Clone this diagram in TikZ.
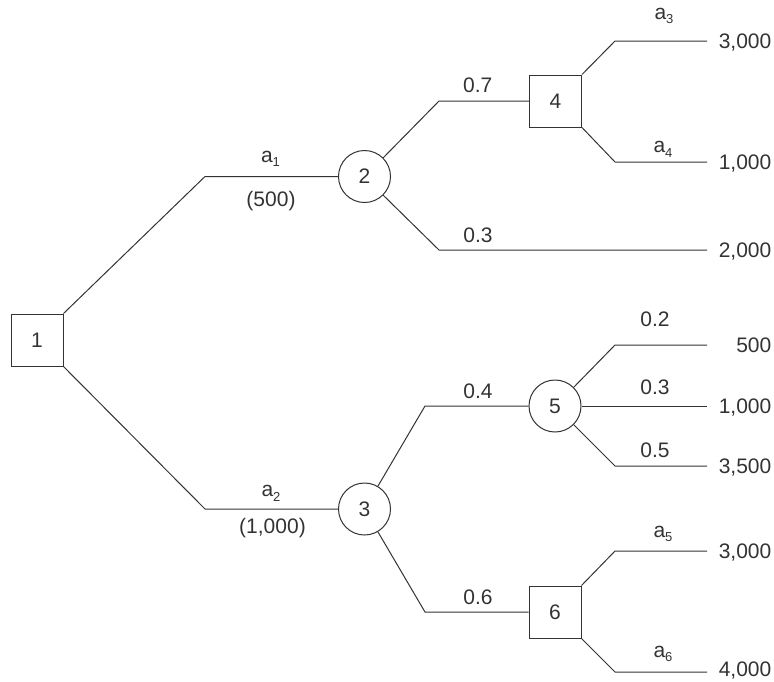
\documentclass[tikz,border=0pt]{standalone}
\usepackage{fontspec}
\setmainfont{Liberation Sans}
\newcommand\sbs[1]{\raisebox{-4.5pt}{\fontsize{13}{15}\selectfont #1}}
\definecolor{ink}{HTML}{333333}
\begin{document}
\begin{tikzpicture}[x=1pt,y=-1pt,
  every node/.style={font=\fontsize{21}{25}\selectfont, text=ink},
  line/.style={draw=ink, line width=1pt},
  decbox/.style={line, rectangle, minimum size=52pt, inner sep=0pt},
  chance/.style={line, circle, minimum size=52pt, inner sep=0pt},
  lab/.style={anchor=base, inner sep=0pt},
  val/.style={anchor=base east, inner sep=0pt}]
\useasboundingbox (0,0) rectangle (774,681);
% nodes
\node[decbox] (n1) at (37,340) {1};
\node[chance] (n2) at (364.5,176.5) {2};
\node[chance] (n3) at (364.5,509) {3};
\node[decbox] (n4) at (555.5,101) {4};
\node[chance] (n5) at (555,406) {5};
\node[decbox] (n6) at (555,612) {6};
% bend points and end points
\coordinate (c12) at (205,176.5);
\coordinate (c13) at (205,509);
\coordinate (c24) at (439,101);
\coordinate (c2e) at (439,250);
\coordinate (e2) at (707,250);
\coordinate (c4a) at (615,41);
\coordinate (e4a) at (707,41);
\coordinate (c4b) at (615,162);
\coordinate (e4b) at (707,162);
\coordinate (c35) at (425,406);
\coordinate (c36) at (425,612);
\coordinate (c5a) at (615,345);
\coordinate (e5a) at (707,345);
\coordinate (e5b) at (707,406);
\coordinate (c5c) at (615,466);
\coordinate (e5c) at (707,466);
\coordinate (c6a) at (615,551);
\coordinate (e6a) at (707,551);
\coordinate (c6b) at (615,672);
\coordinate (e6b) at (707,672);
% connectors
\draw[line] (n1.north east) -- (c12) -- (n2.west);
\draw[line] (n1.south east) -- (c13) -- (n3.west);
\draw[line] (n2.north east) -- (c24) -- (n4.west);
\draw[line] (n2.south east) -- (c2e) -- (e2);
\draw[line] (n4.north east) -- (c4a) -- (e4a);
\draw[line] (n4.south east) -- (c4b) -- (e4b);
\draw[line] (n3) -- (c35) -- (n5.west);
\draw[line] (n3) -- (c36) -- (n6.west);
\draw[line] (n5.north east) -- (c5a) -- (e5a);
\draw[line] (n5.east) -- (e5b);
\draw[line] (n5.south east) -- (c5c) -- (e5c);
\draw[line] (n6.north east) -- (c6a) -- (e6a);
\draw[line] (n6.south east) -- (c6b) -- (e6b);
% branch labels
\node[lab] (la1) at (270.5,162.3) {a\sbs{1}};
\node[lab] (lc1) at (271,206.7) {(500)};
\node[lab] (la2) at (271,496.7) {a\sbs{2}};
\node[lab] (lc2) at (272.5,533) {(1,000)};
\node[lab] (p07) at (477.7,92.7) {0.7};
\node[lab] (p03a) at (478,242) {0.3};
\node[lab] (p04) at (478,398) {0.4};
\node[lab] (p06) at (478,604) {0.6};
\node[lab] (la3) at (664,19.3) {a\sbs{3}};
\node[lab] (la4) at (663,152.7) {a\sbs{4}};
\node[lab] (p02) at (655,326.7) {0.2};
\node[lab] (p03b) at (655,394.3) {0.3};
\node[lab] (p05) at (655,457.3) {0.5};
\node[lab] (la5) at (663,537.3) {a\sbs{5}};
\node[lab] (la6) at (663,657.3) {a\sbs{6}};
% payoffs
\node[val] (v1) at (771.5,48) {3,000};
\node[val] (v2) at (771.5,169) {1,000};
\node[val] (v3) at (771.5,257) {2,000};
\node[val] (v4) at (771.5,352) {500};
\node[val] (v5) at (771.5,413) {1,000};
\node[val] (v6) at (771.5,473) {3,500};
\node[val] (v7) at (771.5,558) {3,000};
\node[val] (v8) at (771.5,676.5) {4,000};
\end{tikzpicture}
\end{document}
